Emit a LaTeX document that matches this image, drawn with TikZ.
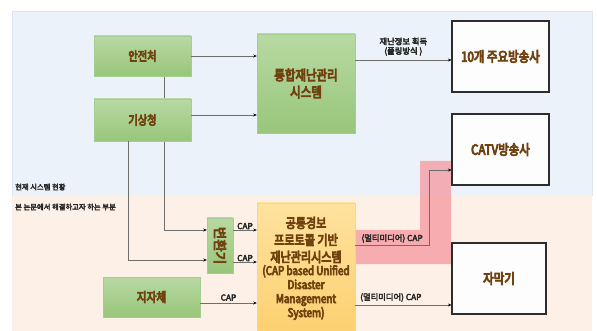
\documentclass[tikz,border=0pt]{standalone}
\usepackage{fontspec}
\usepackage{graphicx}
\setmainfont{Noto Sans CJK KR}[FakeStretch=0.82, FakeBold=6]
\newfontfamily\lblfont{Noto Sans CJK KR}[FakeBold=4]
\newfontfamily\convfont{Noto Sans CJK KR}[FakeBold=6]
\usetikzlibrary{arrows.meta,calc}
\pgfdeclarelayer{back}
\pgfdeclarelayer{mid}
\pgfsetlayers{back,mid,main}
\definecolor{brownT}{RGB}{112,66,16}
\definecolor{bgblue}{RGB}{235,242,250}
\definecolor{bgpeach}{RGB}{253,241,231}
\definecolor{bgedge}{RGB}{220,230,242}
\definecolor{lineg}{RGB}{110,110,110}
\definecolor{hlred}{RGB}{246,150,158}
\definecolor{darkT}{RGB}{40,40,40}
\tikzset{
  greenbox/.style={draw={rgb,255:red,165;green,205;blue,145}, top color={rgb,255:red,184;green,217;blue,163}, bottom color={rgb,255:red,152;green,198;blue,122}, inner sep=0pt, text=brownT, font=\fontsize{12.5}{14}\selectfont, align=center},
  whitebox/.style={draw={rgb,255:red,45;green,45;blue,45}, line width=1.1pt, fill={rgb,255:red,253;green,253;blue,253}, inner sep=0pt, text=brownT, font=\fontsize{14}{16}\selectfont},
  orangebox/.style={draw={rgb,255:red,250;green,212;blue,140}, top color={rgb,255:red,255;green,226;blue,158}, bottom color={rgb,255:red,252;green,208;blue,112}, inner sep=0pt},
  arr/.style={draw=lineg, line width=0.6pt, -{Stealth[length=3.5pt,width=3pt,color=black]}},
  lbl/.style={font=\lblfont\fontsize{8.3}{9.5}\selectfont, text=darkT, inner sep=1pt},
  reglbl/.style={font=\lblfont\fontsize{7.3}{8}\selectfont, text=darkT, anchor=west, inner sep=0pt}
}
\begin{document}
\begin{tikzpicture}[x=1pt,y=-1pt]
\useasboundingbox (0,0) rectangle (597,331);
\begin{pgfonlayer}{back}
\fill[white] (0,0) rectangle (597,331);
\fill[bgblue] (12,11) rectangle (592,196);
\draw[draw=bgedge, line width=0.6pt] (12,196) -- (12,11) -- (592,11) -- (592,196);
\fill[bgpeach] (12,196) rectangle (592,331);
\fill[hlred, opacity=0.75] (355,230) -- (420,230) -- (420,161) -- (451,161) -- (451,264) -- (355,264) -- cycle;
\end{pgfonlayer}
\node[reglbl] (regA) at (15,187) {현재 시스템 현황};
\node[reglbl] (regB) at (15,207) {본 논문에서 해결하고자 하는 부분};
% nodes
\node[greenbox, minimum width=97pt, minimum height=40pt] (anjeon) at (142.5,56) {안전처};
\node[greenbox, minimum width=97pt, minimum height=42pt] (gisang) at (142.5,120) {기상청};
\node[greenbox, minimum width=98pt, minimum height=99pt, font=\fontsize{14}{17}\selectfont] (tonghap) at (306,83.5) {통합재난관리\\시스템};
\node[whitebox, minimum width=97pt, minimum height=71pt] (ten) at (500.5,56.5) {10개 주요방송사};
\node[whitebox, minimum width=97pt, minimum height=71pt] (catv) at (500.5,149.5) {CATV방송사};
\node[whitebox, minimum width=94pt, minimum height=71pt] (jamak) at (499,278.5) {자막기};
\node[greenbox, minimum width=97pt, minimum height=40pt, font=\fontsize{13}{15}\selectfont] (jijache) at (151.5,297) {지자체};
\node[greenbox, minimum width=26pt, minimum height=55pt, font=\convfont\fontsize{13.5}{15}\selectfont] (conv) at (220,245.5) {\rotatebox{-90}{변환기}};
\node[orangebox, minimum width=98pt, minimum height=131pt] (common) at (306,268.5) {};
\node[text=brownT, align=center, inner sep=0pt, font=\fontsize{13.5}{17}\selectfont] (commonKR) at (306,240) {공통경보\\프로토콜 기반\\재난관리시스템};
\node[text=brownT, align=center, inner sep=0pt, font=\fontsize{12}{14}\selectfont] (commonEN) at (306,292.5) {(CAP based Unified\\Disaster\\Management\\System)};
% connectors
\draw[arr] (anjeon.east) -- (tonghap.west |- anjeon.east);
\draw[arr] (gisang.east |- 0,115) -- (tonghap.west |- 0,115);
\draw[arr] (tonghap.east |- 0,60) -- node[lbl, above=3pt, align=center] (lblA) {재난정보 획득\\(폴링방식 )} (ten.west |- 0,60);
\begin{pgfonlayer}{mid}
\draw[arr] (anjeon.south -| 164,0) -- (164,230) -- (conv.west |- 0,230);
\end{pgfonlayer}
\draw[arr] (gisang.south -| 128,0) -- (128,260) -- (conv.west |- 0,260);
\draw[arr] (conv.east |- 0,230) -- node[lbl, above=-0.5pt] (lblB) {CAP} (common.west |- 0,230);
\draw[arr] (conv.east |- 0,262) -- node[lbl, above=-0.5pt] (lblC) {CAP} (common.west |- 0,262);
\draw[arr] (jijache.east |- 0,303) -- node[lbl, above=1pt] (lblD) {CAP} (common.west |- 0,303);
\draw[arr] (common.east |- 0,245) -- node[lbl, above=1pt, pos=0.5] (lblE) {(멀티미디어) CAP} (429,245) -- (429,170) -- (catv.west |- 0,170);
\draw[arr] (common.east |- 0,305) -- node[lbl, above=2pt, pos=0.37] (lblF) {(멀티미디어) CAP} (jamak.west |- 0,305);
\end{tikzpicture}
\end{document}
